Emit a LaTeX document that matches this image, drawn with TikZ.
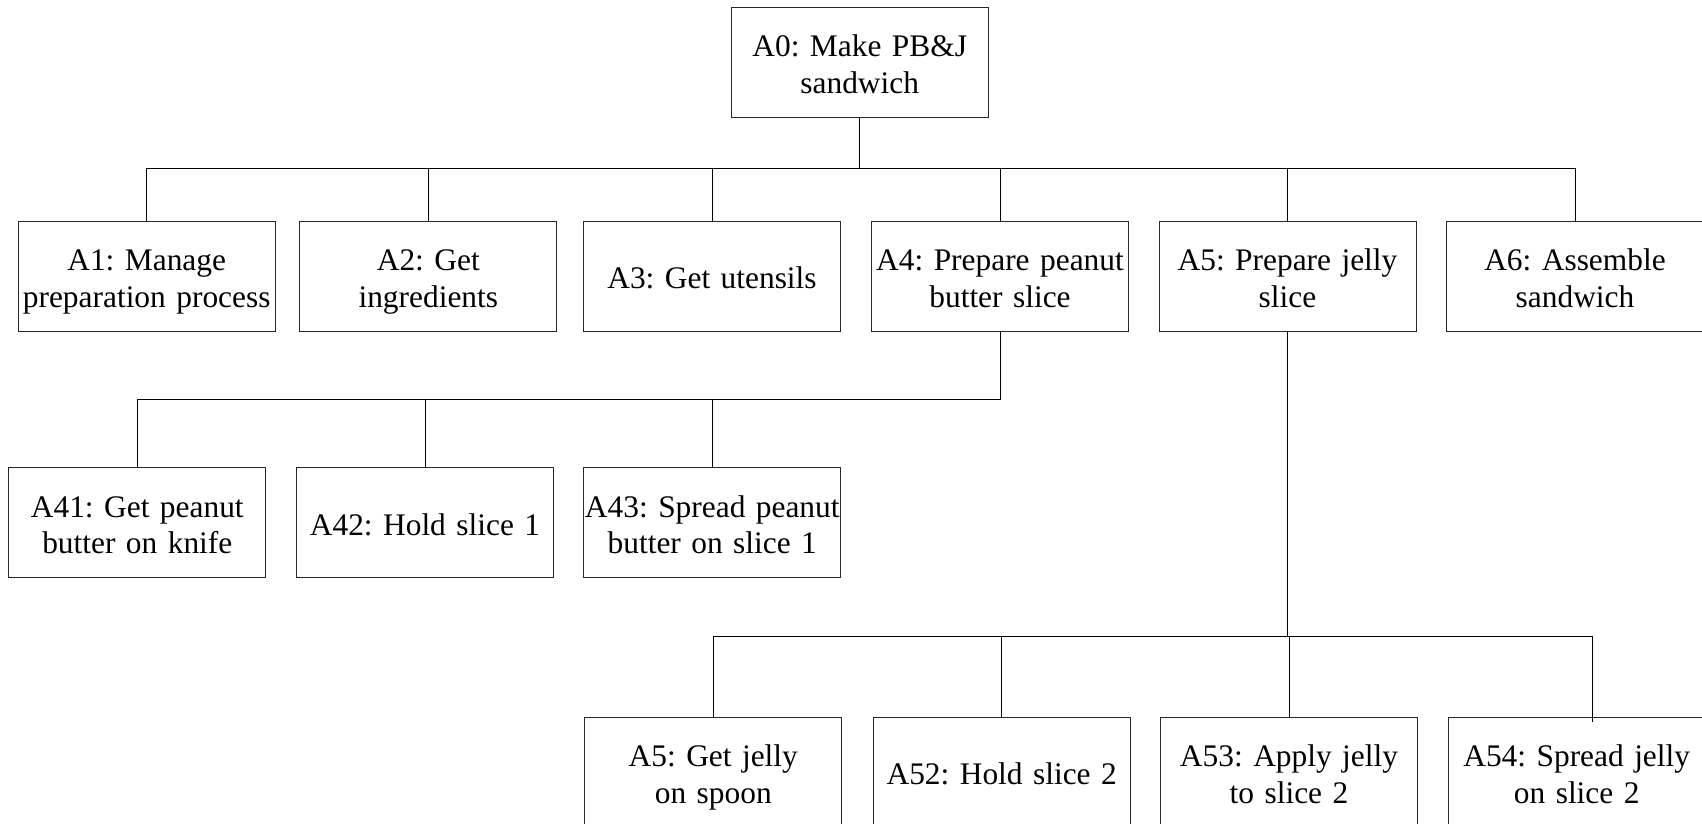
\documentclass[tikz,border=0pt]{standalone}
\usepackage{fontspec}
\setmainfont{Liberation Serif}
\begin{document}
\frenchspacing
\begin{tikzpicture}[x=1pt,y=-1pt,
  box/.style={draw=black!85, line width=1pt, minimum width=257pt, minimum height=110pt,
    inner sep=0pt, text width=255pt, align=center,
    font=\fontsize{31.4}{36.5}\selectfont, anchor=north west,
    execute at begin node={\rule{0pt}{36.5pt}}, execute at end node=\strut},
  link/.style={draw=black, line width=1pt}]
\useasboundingbox (0,0) rectangle (1702,824);
\clip (0,0) rectangle (1702,824);
% level 0
\node[box] (a0) at (730.7,6.7) {A0: Make PB\&J\\sandwich};
% level 1
\node[box] (a1) at (17.7,220.7) {A1: Manage\\preparation process};
\node[box] (a2) at (299.3,220.7) {A2: Get\\ingredients};
\node[box] (a3) at (583,220.7) {A3: Get utensils};
\node[box] (a4) at (871,220.7) {A4: Prepare peanut\\butter slice};
\node[box] (a5) at (1158.5,220.7) {A5: Prepare jelly\\slice};
\node[box] (a6) at (1446,220.7) {A6: Assemble\\sandwich};
% level 2 (under A4)
\node[box] (a41) at (8.3,467.3) {A41: Get peanut\\butter on knife};
\node[box] (a42) at (296,467.3) {A42: Hold slice 1};
\node[box] (a43) at (583.3,467.3) {A43: Spread peanut\\butter on slice 1};
% level 2 (under A5)
\node[box] (a51) at (584.3,716.7) {A5: Get jelly\\on spoon};
\node[box] (a52) at (872.7,716.7) {A52: Hold slice 2};
\node[box] (a53) at (1160,716.7) {A53: Apply jelly\\to slice 2};
\node[box] (a54) at (1447.7,716.7) {A54: Spread jelly\\on slice 2};
% buses
\coordinate (bus0) at (0,168.5);
\coordinate (bus4) at (0,399.3);
\coordinate (bus5) at (0,636);
\coordinate (a54in) at ([xshift=16pt,yshift=-5pt]a54.north);
% A0 tree
\draw[link] (a0.south) -- (a0.south |- bus0);
\draw[link] (a1.north) |- (bus0 -| a6.north) -- (a6.north);
\foreach \n in {a2,a3,a4,a5} \draw[link] (\n.north) -- (\n.north |- bus0);
% A4 tree
\draw[link] (a4.south) |- (bus4 -| a41.north) -- (a41.north);
\foreach \n in {a42,a43} \draw[link] (\n.north) -- (\n.north |- bus4);
% A5 tree
\draw[link] (a5.south) -- (a5.south |- bus5);
\draw[link] (a51.north) |- (bus5 -| a54in) -- (a54in);
\foreach \n in {a52,a53} \draw[link] (\n.north) -- (\n.north |- bus5);
\end{tikzpicture}
\end{document}
